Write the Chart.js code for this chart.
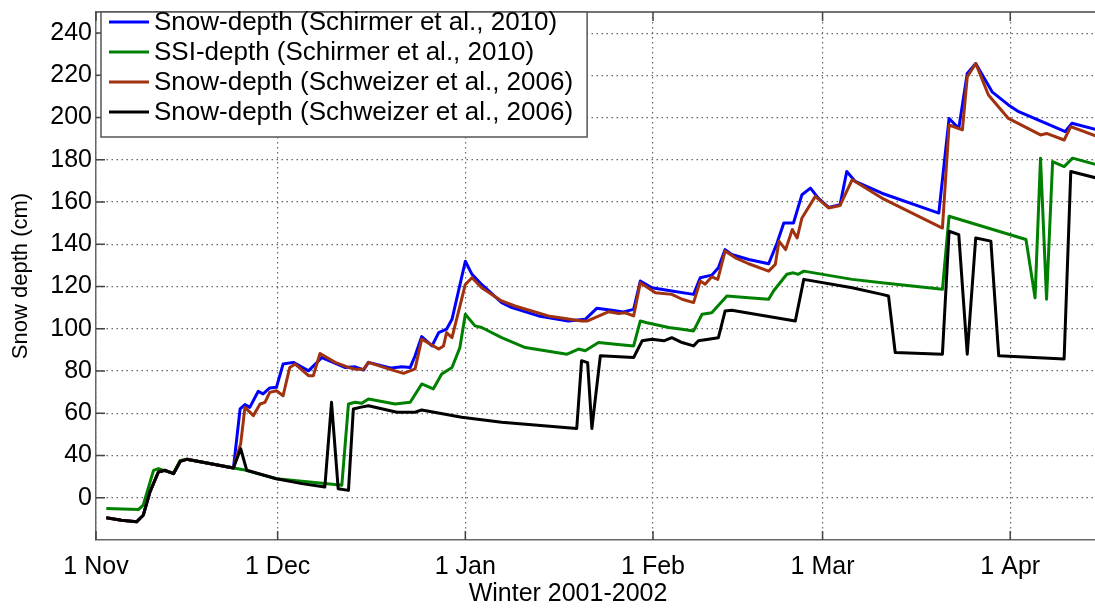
<!DOCTYPE html>
<html>
<head>
<meta charset="utf-8">
<script src="https://cdn.jsdelivr.net/npm/chart.js@4/dist/chart.umd.min.js"></script>
<style>
  body { margin: 0; background: #fff; }
  #wrap { width: 1095px; height: 612px; }
</style>
</head>
<body>
<div id="wrap"><canvas id="snowChart" width="1095" height="612"></canvas></div>
<script>
// x values are days since 1 Nov 2001, y values in axis units
const xTicks = [0, 30, 61, 92, 120, 151];
const xTickLabels = ['1 Nov', '1 Dec', '1 Jan', '1 Feb', '1 Mar', '1 Apr'];
const yTicks = [20, 40, 60, 80, 100, 120, 140, 160, 180, 200, 220, 240];
const yTickLabels = ['0', '40', '60', '80', '100', '120', '140', '160', '180', '200', '220', '240'];

const seriesNames = [
    'Snow-depth (Schirmer et al., 2010)',
    'SSI-depth (Schirmer et al., 2010)',
    'Snow-depth (Schweizer et al., 2006)',
    'Snow-depth (Schweizer et al., 2006)'
];
const seriesColors = ['#0000ff', '#008000', '#a0320f', '#000000'];

const blueDays = [1.7, 4.2, 6.7, 7.8, 8.9, 10.3, 11.4, 12.8, 13.9, 15.0, 22.7, 23.8, 24.6, 25.4, 26.8, 27.6, 28.7, 29.8,
    30.9, 32.6, 35.1, 37.3, 41.1, 42.8, 44.2, 45.0, 48.8, 50.5, 51.9, 52.7, 53.8, 55.5, 56.6, 57.9, 58.8, 61.0, 62.1,
    63.7, 67.0, 68.7, 73.1, 78.0, 80.8, 82.7, 85.2, 87.1, 88.8, 89.9, 91.8, 95.1, 98.7, 99.8, 101.7, 102.8, 103.9,
    105.0, 107.8, 111.1, 112.5, 113.6, 115.2, 116.6, 118.0, 119.3, 121.0, 122.9, 124.0, 125.4, 129.8, 139.2, 140.9,
    142.5, 143.9, 145.3, 148.0, 150.7, 152.4, 160.1, 161.2, 165.4];
const blueDepth = [10.5, 9.4, 8.6, 11.7, 22.7, 32.2, 33, 31.4, 37.2, 38.2, 34.1, 62.1, 64.1, 62.8, 70.4, 69.2, 72, 72.3,
    83.3, 84.1, 80.1, 86.4, 81.7, 82, 80.5, 84.1, 81.4, 82, 81.7, 87.2, 96.3, 91.9, 98.2, 99.8, 104.5, 132, 125.8,
    121, 112.4, 110, 106.1, 103.7, 104.5, 109.7, 108.8, 108, 109.2, 122.6, 119.4, 117.9, 116.3, 124.2, 125.4, 128.9, 137.5,
    135.2, 132.8, 130.8, 140.7, 150.1, 150.1, 163.5, 166.6, 161.9, 157.5, 158.8, 174.5, 169.8, 164.2, 154.8, 199.6,
    194.9, 220.9, 225.6, 212.2, 206, 202.8, 193.4, 197.3, 194.2];

const greenDays = [1.7, 7.0, 7.8, 9.5, 10.3, 11.4, 12.8, 13.9, 15.0, 24.3, 29.8, 37.8, 40.6, 41.7, 42.8, 43.9, 45.0,
    49.4, 51.9, 53.8, 55.7, 57.1, 58.8, 60.1, 61.0, 62.6, 63.7, 67.0, 70.9, 77.8, 79.7, 80.8, 83.0, 85.8, 88.8, 89.9,
    91.0, 94.6, 96.8, 98.7, 100.1, 101.7, 104.2, 107.8, 111.1, 111.9, 114.1, 115.2, 116.0, 116.9, 124.9, 129.8, 139.8,
    140.9, 153.6, 155.1, 156.0, 157.0, 158.0, 159.9, 161.3, 165.4];
const greenDepth = [14.9, 14.4, 16.5, 33, 33.8, 32.7, 31.7, 37.7, 38.2, 33.3, 29, 26.7, 25.9, 64.4, 65.2, 64.7, 66.8,
    64.4, 65.2, 73.9, 71.5, 78.6, 81.7, 91.1, 106.9, 101.4, 100.6, 95.8, 91.1, 88, 90.4, 89.6, 93.5, 92.7, 91.9, 103.7,
    102.9, 100.6, 99.8, 99, 106.9, 107.6, 115.5, 114.7, 114, 117.9, 125.8, 126.5, 125.8, 127.3, 123.4, 121.8, 118.7,
    153.3, 142.3, 114.7, 180.8, 114, 179.2, 176.8, 180.8, 177.6];

const brownDays = [1.7, 4.2, 6.7, 7.8, 8.9, 10.3, 11.4, 12.8, 13.9, 15.0, 22.7, 23.9, 24.6, 26.0, 27.1, 27.9, 28.7,
    29.8, 30.9, 32.0, 32.9, 35.1, 35.9, 37.0, 39.5, 41.7, 42.8, 44.2, 45.0, 48.3, 50.8, 52.7, 53.8, 56.6, 57.4, 57.9,
    58.8, 61.0, 62.1, 63.7, 67.0, 69.2, 74.7, 80.2, 81.2, 84.7, 86.3, 87.4, 88.8, 89.9, 92.4, 95.1, 96.8, 98.7, 99.8,
    100.6, 101.7, 102.7, 103.9, 105.6, 107.8, 111.1, 112.2, 112.8, 113.9, 115.0, 115.8, 116.6, 118.8, 121.0, 122.9,
    124.9, 129.8, 139.8, 140.9, 143.1, 143.9, 145.3, 147.4, 150.7, 156.0, 157.0, 159.9, 161.0, 165.4];
const brownDepth = [10.5, 9.4, 8.6, 11.7, 22.7, 32.2, 33, 31.4, 37.2, 38.2, 34.1, 45.6, 62.8, 58.9, 64.4, 65.2, 69.9,
    70.7, 68.3, 81.7, 83.3, 77.8, 77.8, 88.3, 84.1, 81.7, 80.9, 80.9, 84.1, 81, 78.9, 81, 95.1, 90.4, 91.9, 98.2,
    95.8, 121, 124.2, 119.4, 113.2, 110.8, 106.1, 103.7, 103.7, 108.1, 107.2, 107.6, 106.1, 121.8, 117.1, 116.3, 114, 112.4, 122.6,
    121.1, 124.6, 123.4, 136.8, 133.6, 130.8, 127.3, 130.5, 141.5, 137.5, 147, 143, 152.5, 162.7, 157.2, 158.4,
    170.6, 161.9, 147.7, 196.5, 194.2, 219.3, 225.6, 210.7, 199.6, 191.8, 192.5, 189.4, 195.7, 191];

const blackDays = [1.7, 4.2, 6.7, 7.8, 8.9, 10.3, 11.4, 12.8, 13.9, 15.0, 22.7, 23.9, 24.9, 29.8, 34.0, 37.8, 38.9,
    40.0, 41.7, 42.5, 43.6, 45.0, 49.7, 52.7, 53.8, 60.4, 67.0, 79.4, 80.2, 81.2, 81.9, 83.3, 88.8, 90.2, 91.8, 93.8,
    95.1, 96.8, 98.7, 99.5, 102.8, 103.9, 105.0, 115.5, 116.9, 124.9, 129.8, 130.9, 132.0, 139.8, 140.9, 142.5, 143.9,
    145.3, 147.8, 149.1, 159.9, 161.0, 165.4];
const blackDepth = [10.5, 9.4, 8.6, 11.7, 22.7, 32.2, 33, 31.4, 37.2, 38.2, 34.1, 43.2, 33, 29, 26.7, 25.1, 65.2,
    24.3, 23.5, 62, 62.8, 63.6, 60.5, 60.5, 61.6, 58.1, 55.8, 52.8, 84.9, 84, 52.8, 87.2, 86.4, 94.3, 95.1, 94.3,
    95.8, 93.5, 91.9, 94.3, 95.8, 108.4, 108.8, 103.7, 123.4, 119.4, 116.3, 115.5, 88.8, 88, 146.2, 144.6, 88,
    143, 141.5, 87.2, 85.7, 174.5, 171.3];

const FONT = "'Liberation Sans', Arial, sans-serif";

function toPoints(days, depth) {
    return days.map((d, i) => ({ x: d, y: depth[i] }));
}

const allSeries = [
    toPoints(blueDays, blueDepth),
    toPoints(greenDays, greenDepth),
    toPoints(brownDays, brownDepth),
    toPoints(blackDays, blackDepth)
];

// frame, inward ticks, x title and boxed legend like the original figure
const figureExtras = {
    id: 'figureExtras',
    afterDraw(chart) {
        const { ctx, chartArea: a, scales: { x, y } } = chart;
        ctx.save();
        ctx.strokeStyle = '#444';
        ctx.lineWidth = 1.5;
        ctx.beginPath();
        ctx.moveTo(a.left, a.top);
        ctx.lineTo(a.right, a.top);
        xTicks.forEach(d => {
            const px = x.getPixelForValue(d);
            ctx.moveTo(px, a.bottom); ctx.lineTo(px, a.bottom - 9);
            ctx.moveTo(px, a.top); ctx.lineTo(px, a.top + 9);
        });
        yTicks.forEach(v => {
            const py = y.getPixelForValue(v);
            ctx.moveTo(a.left, py); ctx.lineTo(a.left + 9, py);
        });
        ctx.stroke();

        ctx.fillStyle = '#000';
        ctx.font = '25px ' + FONT;
        ctx.textAlign = 'center';
        ctx.textBaseline = 'middle';
        ctx.fillText('Winter 2001-2002', 568, 594);

        // legend
        ctx.font = '26px ' + FONT;
        ctx.textAlign = 'left';
        const textW = Math.max(...seriesNames.map(n => ctx.measureText(n).width));
        const bx = a.left + 5, by = a.top;
        const bw = 53 + textW + 14, bh = 125;
        ctx.fillStyle = '#fff';
        ctx.fillRect(bx, by, bw, bh);
        ctx.strokeStyle = '#555';
        ctx.lineWidth = 1.5;
        ctx.strokeRect(bx, by, bw, bh);
        seriesNames.forEach((name, i) => {
            const ry = by + 10 + i * 30;
            ctx.strokeStyle = seriesColors[i];
            ctx.lineWidth = 3;
            ctx.beginPath();
            ctx.moveTo(bx + 8, ry);
            ctx.lineTo(bx + 48, ry);
            ctx.stroke();
            ctx.fillStyle = '#000';
            ctx.fillText(name, bx + 53, ry + 1);
        });
        ctx.restore();
    }
};

new Chart(document.getElementById('snowChart'), {
    type: 'line',
    data: {
        datasets: allSeries.map((pts, i) => ({
            label: seriesNames[i],
            data: pts,
            borderColor: seriesColors[i],
            borderWidth: 3,
            borderJoinStyle: 'round',
            pointRadius: 0,
            tension: 0,
            fill: false,
            order: 4 - i
        }))
    },
    options: {
        responsive: false,
        animation: false,
        layout: { padding: { top: 12, right: 0, bottom: 0, left: 0 } },
        plugins: {
            legend: { display: false },
            tooltip: { enabled: false }
        },
        scales: {
            x: {
                type: 'linear',
                min: 0,
                max: 165,
                afterBuildTicks: s => { s.ticks = xTicks.map(v => ({ value: v })); },
                afterFit: s => { s.height = 72; s.paddingLeft = 0; s.paddingRight = 0; },
                ticks: {
                    autoSkip: false,
                    maxRotation: 0,
                    padding: 12,
                    color: '#000',
                    font: { family: FONT, size: 25 },
                    callback: (v, i) => xTickLabels[i]
                },
                grid: { color: '#666', lineWidth: 1.2, drawTicks: false },
                border: { display: true, color: '#666', width: 1.5, dash: [1.5, 3.5] }
            },
            y: {
                min: 0,
                max: 250,
                afterBuildTicks: s => { s.ticks = yTicks.map(v => ({ value: v })); },
                afterFit: s => { s.width = 96; s.paddingTop = 0; s.paddingBottom = 0; },
                ticks: {
                    padding: 4,
                    color: '#000',
                    font: { family: FONT, size: 25 },
                    callback: (v, i) => yTickLabels[i]
                },
                grid: { color: '#666', lineWidth: 1.2, drawTicks: false },
                border: { display: true, color: '#666', width: 1.5, dash: [1.5, 3.5] },
                title: {
                    display: true,
                    text: 'Snow depth (cm)',
                    color: '#000',
                    font: { family: FONT, size: 22 },
                    padding: { top: 8, bottom: 0 }
                }
            }
        }
    },
    plugins: [figureExtras]
});
</script>
</body>
</html>
